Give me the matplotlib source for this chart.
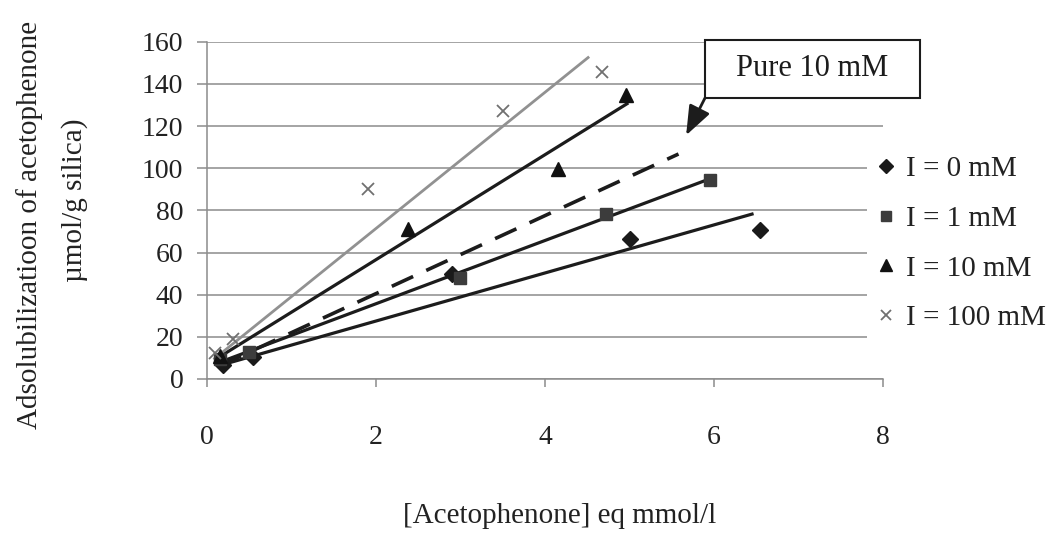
import numpy as np
import matplotlib
matplotlib.use('Agg')
import matplotlib.pyplot as plt
from matplotlib.patches import Rectangle

plt.rcParams['font.family'] = ['Liberation Serif', 'DejaVu Serif']

# measured adsolubilization points, one set per ionic strength
X_I0 = [0.19, 0.55, 2.90, 5.00, 6.54]
Y_I0 = [6.6, 10.2, 50.0, 66.3, 70.9]
X_I1 = [0.15, 0.50, 2.99, 4.72, 5.95]
Y_I1 = [9.5, 13.0, 47.7, 78.2, 94.3]
X_I10 = [0.15, 2.38, 4.15, 4.96]
Y_I10 = [11.0, 71.0, 99.5, 134.6]
X_I100 = [0.09, 0.31, 1.91, 3.50, 4.67]
Y_I100 = [12.2, 19.0, 90.3, 127.0, 145.6]

# linear trend lines: slope, intercept, x range
FIT_I0 = (11.4, 4.7, 0.19, 6.45)
FIT_I1 = (15.0, 5.7, 0.15, 5.95)
FIT_I10 = (24.9, 6.8, 0.15, 4.97)
FIT_I100 = (32.3, 6.8, 0.09, 4.51)
FIT_PURE = (18.5, 3.5, 0.15, 5.58)

LABELS = ['I = 0 mM', 'I = 1 mM', 'I = 10 mM', 'I = 100 mM']
X_TICKS = [0, 2, 4, 6, 8]
Y_TICKS = [0, 20, 40, 60, 80, 100, 120, 140, 160]

W, H = 1053, 533
fig = plt.figure(figsize=(W / 100, H / 100), dpi=100)
ax = fig.add_axes([207 / W, 1 - 379 / H, 676 / W, (379 - 41.7) / H])

GRID = '#8c8c8c'


def fit_line(fit, **kw):
    slope, icpt, x0, x1 = fit
    xs = np.array([x0, x1])
    ax.plot(xs, icpt + slope * xs, **kw)


fit_line(FIT_I0, color='#1c1c1c', lw=2.3, zorder=3)
fit_line(FIT_I1, color='#1c1c1c', lw=2.3, zorder=3)
fit_line(FIT_I10, color='#1c1c1c', lw=2.3, zorder=3)
fit_line(FIT_I100, color='#919191', lw=2.0, zorder=3)
fit_line(FIT_PURE, color='#1c1c1c', lw=2.6, ls=(0, (6.5, 4)), zorder=3)

h0, = ax.plot(X_I0, Y_I0, 'D', color='#1a1a1a', ms=8.5, ls='none', zorder=4)
h1, = ax.plot(X_I1, Y_I1, 's', color='#3c3c3c', ms=9, ls='none', zorder=4)
h2, = ax.plot(X_I10, Y_I10, '^', color='#111111', ms=10, ls='none', zorder=4)
h3, = ax.plot(X_I100, Y_I100, 'x', color='#707070', ms=9, mew=1.3,
              ls='none', zorder=4)

ax.set_xlim(0, 8)
ax.set_ylim(0, 160)
ax.set_xticks(X_TICKS)
ax.set_yticks(Y_TICKS)
ax.yaxis.grid(True, color=GRID, lw=1.1)
ax.set_axisbelow(True)
for side in ['top', 'right']:
    ax.spines[side].set_visible(False)
for side in ['left', 'bottom']:
    ax.spines[side].set_color(GRID)
    ax.spines[side].set_linewidth(1.1)
ax.tick_params(axis='x', direction='out', length=6, width=1.1, color=GRID,
               pad=27, labelsize=20, labelcolor='#222222')
ax.tick_params(axis='y', direction='out', length=7, width=1.1, color=GRID,
               pad=10, labelsize=20, labelcolor='#222222')

fig.text(30 / W, 1 - 225 / H, 'Adsolubilizatioon of acetophenone',
         rotation=90, ha='center', va='center', fontsize=21, color='#222222')
fig.text(75 / W, 1 - 200 / H, 'µmol/g silica)',
         rotation=90, ha='center', va='center', fontsize=21, color='#222222')
fig.text(560 / W, 1 - 516 / H, '[Acetophenone] eq mmol/l',
         ha='center', va='center', fontsize=21, color='#222222')

# callout box for the pure surfactant line
fig.add_artist(Rectangle((705 / W, 1 - 98 / H), 215 / W, 58 / H,
                         transform=fig.transFigure, fc='white',
                         ec='#1c1c1c', lw=1.5, zorder=5))
fig.text(812 / W, 1 - 69 / H, 'Pure 10 mM', ha='center', va='center',
         fontsize=22, color='#1c1c1c', zorder=6)
ax.annotate('', xy=(5.67, 115.6), xycoords='data',
            xytext=(705 / W, 1 - 98 / H), textcoords='figure fraction',
            arrowprops=dict(arrowstyle='-|>,head_length=0.6,head_width=0.23',
                            mutation_scale=30, color='#1c1c1c', lw=2,
                            shrinkA=0, shrinkB=0),
            annotation_clip=False, zorder=6)

leg = fig.legend([h0, h1, h2, h3], LABELS, loc='upper left',
                 bbox_to_anchor=(867 / W, 1 - 147 / H), borderaxespad=0,
                 frameon=True, fancybox=False, edgecolor='none',
                 facecolor='white', framealpha=1, fontsize=21,
                 handlelength=0.7, handletextpad=0.35, labelspacing=0.8,
                 borderpad=0.3, markerscale=0.85)
for t in leg.get_texts():
    t.set_color('#222222')

fig.savefig('out.png', dpi=100)
